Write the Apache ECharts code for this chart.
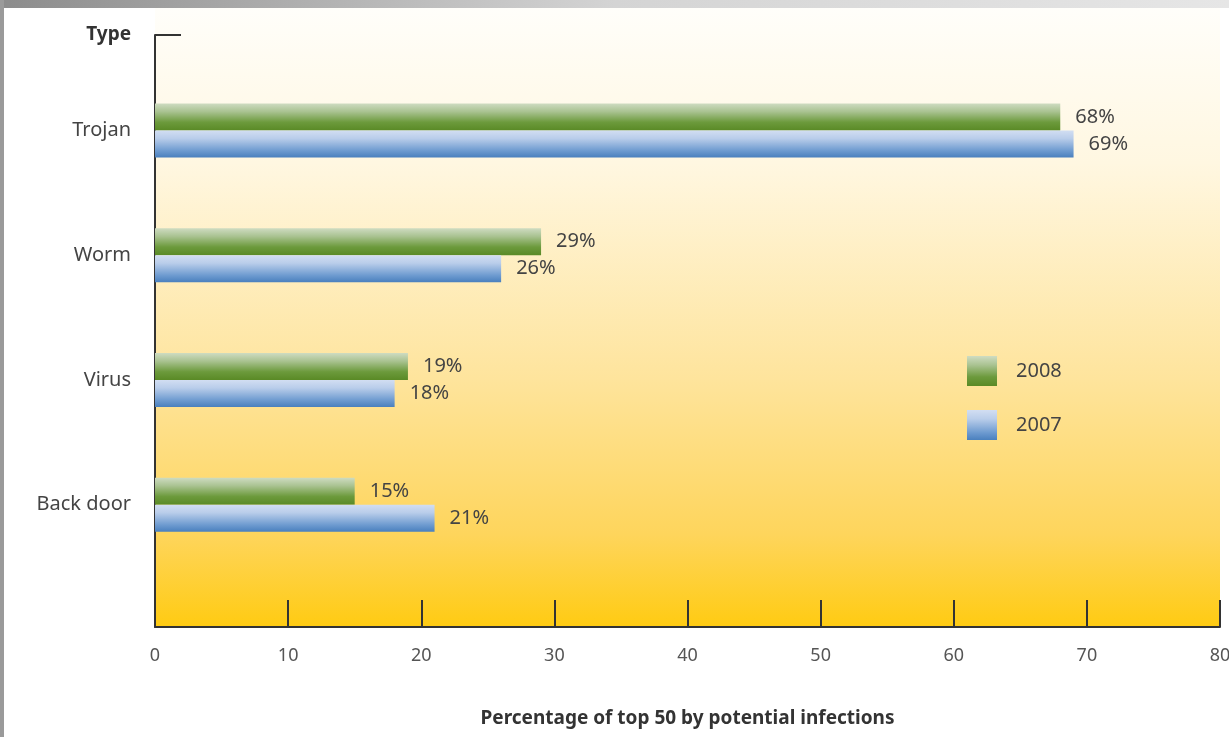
<!DOCTYPE html>
<html>
<head>
<meta charset="utf-8">
<script src="https://cdn.jsdelivr.net/npm/echarts@6/dist/echarts.min.js"></script>
<style>
html,body{margin:0;padding:0;background:#fff;}
#chart{width:1229px;height:737px;}
</style>
</head>
<body>
<div id="chart"></div>
<script>
const categories = ['Trojan', 'Worm', 'Virus', 'Back door'];
const values2008 = [68, 29, 19, 15];
const values2007 = [69, 26, 18, 21];
const xTicks = [0, 10, 20, 30, 40, 50, 60, 70, 80];
const seriesNames = ['2008', '2007'];

const FONT = '"Noto Sans", "Open Sans", sans-serif';

const greenGrad = new echarts.graphic.LinearGradient(0, 0, 0, 1, [
  {offset: 0, color: '#cfdcc2'},
  {offset: 0.3, color: '#aac392'},
  {offset: 0.7, color: '#6c9a3c'},
  {offset: 1, color: '#5a8a26'}
]);
const blueGrad = new echarts.graphic.LinearGradient(0, 0, 0, 1, [
  {offset: 0, color: '#d2def2'},
  {offset: 0.3, color: '#b9cdea'},
  {offset: 0.75, color: '#6e9bd0'},
  {offset: 1, color: '#4a80be'}
]);

const chart = echarts.init(document.getElementById('chart'), null, {renderer: 'canvas'});

const labelStyle = {
  show: true, position: 'right', distance: 15,
  formatter: '{c}%', fontFamily: FONT, fontSize: 20, color: '#444'
};

chart.setOption({
  animation: false,
  textStyle: {fontFamily: FONT},
  graphic: [
    {type: 'rect', z: -100, silent: true, shape: {x: 155, y: 8, width: 1065, height: 619},
     style: {fill: new echarts.graphic.LinearGradient(0, 0, 0, 1, [
       {offset: 0, color: '#fffefa'},
       {offset: 0.25, color: '#fff7e1'},
       {offset: 0.6, color: '#fee49c'},
       {offset: 0.85, color: '#fed55c'},
       {offset: 1, color: '#ffcb12'}
     ])}},
    {type: 'rect', z: -100, silent: true, shape: {x: 0, y: 0, width: 1229, height: 8},
     style: {fill: new echarts.graphic.LinearGradient(0, 0, 1, 0, [
       {offset: 0, color: '#8c8c8c'},
       {offset: 0.5, color: '#d4d4d4'},
       {offset: 1, color: '#e6e6e6'}
     ])}},
    {type: 'rect', z: -100, silent: true, shape: {x: 0, y: 0, width: 4, height: 737},
     style: {fill: '#9a9a9a'}}
  ],
  legend: {
    orient: 'vertical', left: 967, top: 356,
    itemWidth: 30, itemHeight: 30, itemGap: 24, padding: 0,
    icon: 'rect',
    data: seriesNames,
    textStyle: {fontFamily: FONT, fontSize: 20, color: '#444', padding: [0, 0, 0, 14]}
  },
  grid: [
    {left: 155, right: 9, top: 35, bottom: 110, containLabel: false, outerBoundsMode: 'none'},
    {left: 155, right: 9, top: 68, bottom: 170, containLabel: false, outerBoundsMode: 'none'}
  ],
  xAxis: [
    {
      gridIndex: 0, type: 'value', min: 0, max: 80, interval: 10,
      name: 'Percentage of top 50 by potential infections',
      nameLocation: 'middle', nameGap: 82,
      nameTextStyle: {fontFamily: FONT, fontSize: 19, fontWeight: 'bold', color: '#333'},
      axisLine: {show: true, lineStyle: {color: '#333', width: 2}},
      axisTick: {show: true, inside: true, length: 27, lineStyle: {color: '#333', width: 2}},
      axisLabel: {fontFamily: FONT, fontSize: 18, color: '#555', margin: 20,
        formatter: v => xTicks.includes(v) ? String(v) : ''},
      splitLine: {show: false}
    },
    {
      gridIndex: 1, type: 'value', min: 0, max: 80, show: false
    }
  ],
  yAxis: [
    {
      gridIndex: 0, type: 'value', min: 0, max: 1, interval: 1,
      name: 'Type', nameLocation: 'end', nameGap: 0,
      nameTextStyle: {fontFamily: FONT, fontSize: 19, fontWeight: 'bold', color: '#333',
        align: 'right', verticalAlign: 'middle', padding: [2, 24, 0, 0]},
      axisLine: {show: true, lineStyle: {color: '#333', width: 2}},
      axisTick: {show: true, inside: true, length: 26, lineStyle: {color: '#333', width: 2}},
      axisLabel: {show: false},
      splitLine: {show: false}
    },
    {
      gridIndex: 1, type: 'category', inverse: true, data: categories,
      axisLine: {show: false}, axisTick: {show: false},
      axisLabel: {fontFamily: FONT, fontSize: 20, color: '#444', margin: 24}
    }
  ],
  series: [
    {
      name: seriesNames[0], type: 'bar', xAxisIndex: 1, yAxisIndex: 1,
      data: values2008, barWidth: 27, barGap: '0%',
      itemStyle: {color: greenGrad}, label: labelStyle
    },
    {
      name: seriesNames[1], type: 'bar', xAxisIndex: 1, yAxisIndex: 1,
      data: values2007, barWidth: 27, barGap: '0%',
      itemStyle: {color: blueGrad}, label: labelStyle
    }
  ]
});
</script>
</body>
</html>
